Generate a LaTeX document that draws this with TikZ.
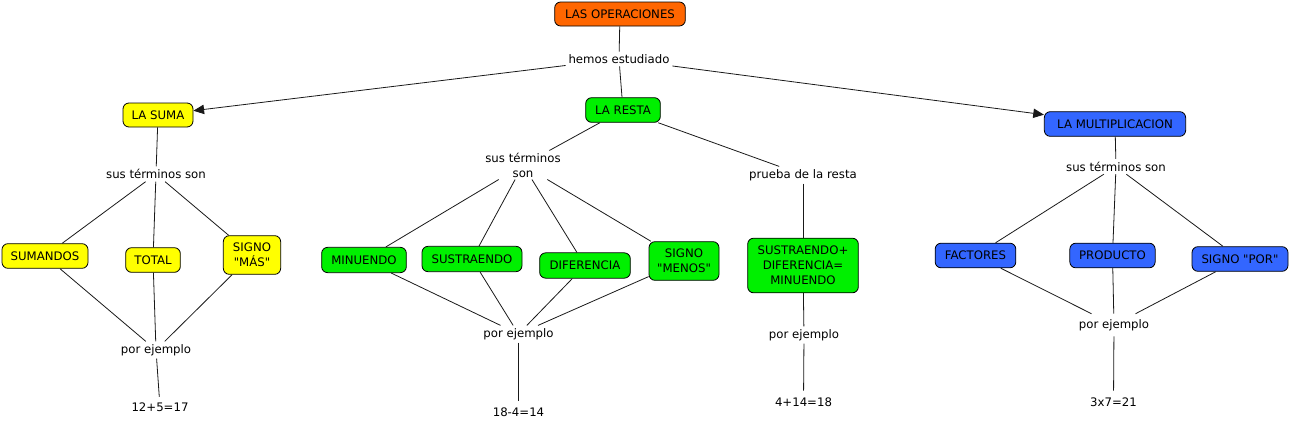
\documentclass[tikz,border=0pt]{standalone}
\usepackage{fontspec}
\newfontfamily\dvsans{DejaVu Sans}
\usetikzlibrary{arrows.meta}
\definecolor{corange}{RGB}{255,102,0}
\definecolor{cyellow}{RGB}{255,255,0}
\definecolor{cgreen}{RGB}{0,240,0}
\definecolor{cblue}{RGB}{51,102,255}
\tikzset{
  conc/.style={draw=black, line width=0.6pt, rounded corners=4.5pt, inner sep=0pt, align=center, font=\dvsans\fontsize{8.8}{11.2}\selectfont, text=black},
  phrase/.style={fill=white, inner sep=2pt, align=center, font=\dvsans\fontsize{8.8}{11.2}\selectfont, text=black},
  link/.style={line width=0.6pt, draw=black!90},
  arr/.style={link, -{Triangle[length=8pt,width=7pt]}},
}
\begin{document}
\begin{tikzpicture}[x=0.75pt,y=-0.75pt]
\useasboundingbox (0,0) rectangle (1290,426);
% concepts
\node[conc, fill=corange, minimum width=98pt, minimum height=18pt] (ops) at (620,14) {LAS OPERACIONES};
\node[conc, fill=cyellow, minimum width=52.5pt, minimum height=18pt] (suma) at (158,115) {LA SUMA};
\node[conc, fill=cgreen, minimum width=56pt, minimum height=18.5pt] (resta) at (623,110) {LA RESTA};
\node[conc, fill=cblue, minimum width=106pt, minimum height=18.5pt] (mult) at (1115,124) {LA MULTIPLICACION};
% phrases
\node[phrase] (hemos) at (619,59) {hemos estudiado};
% left
\node[phrase] (sus1) at (156,174) {sus términos son};
\node[conc, fill=cyellow, minimum width=64.5pt, minimum height=18.5pt] (sumandos) at (45,256) {SUMANDOS};
\node[conc, fill=cyellow, minimum width=41pt, minimum height=18.5pt] (total) at (153,260) {TOTAL};
\node[conc, fill=cyellow, minimum width=43pt, minimum height=29pt] (mas) at (252,255) {SIGNO\\"MÁS"};
\node[phrase] (por1) at (156,350) {por ejemplo};
\node[phrase, inner sep=4pt] (ex1) at (160,407) {12+5=17};
% middle
\node[phrase, inner sep=1.5pt] (sus2) at (523,165) {sus términos\\son};
\node[conc, fill=cgreen, minimum width=63.5pt, minimum height=19pt] (minuendo) at (364,260) {MINUENDO};
\node[conc, fill=cgreen, minimum width=75pt, minimum height=19pt] (sustraendo) at (472,259) {SUSTRAENDO};
\node[conc, fill=cgreen, minimum width=68pt, minimum height=19pt] (diferencia) at (585,265.5) {DIFERENCIA};
\node[conc, fill=cgreen, minimum width=52.5pt, minimum height=29pt] (menos) at (684,261) {SIGNO\\"MENOS"};
\node[phrase] (por2) at (518.5,334) {por ejemplo};
\node[phrase, inner sep=5pt] (ex2) at (518.5,412) {18-4=14};
\node[phrase] (prueba) at (803,175) {prueba de la resta};
\node[conc, fill=cgreen, minimum width=83pt, minimum height=41pt] (proof) at (803,265.5) {SUSTRAENDO+\\DIFERENCIA=\\MINUENDO};
\node[phrase] (por3) at (804,335) {por ejemplo};
\node[phrase, inner sep=5pt] (ex3) at (803.5,402) {4+14=18};
% right
\node[phrase] (sus3) at (1116,166.5) {sus términos son};
\node[conc, fill=cblue, minimum width=60.5pt, minimum height=18.5pt] (factores) at (975.5,255.5) {FACTORES};
\node[conc, fill=cblue, minimum width=64pt, minimum height=18.5pt] (producto) at (1112.5,255.5) {PRODUCTO};
\node[conc, fill=cblue, minimum width=72pt, minimum height=18.5pt] (porsign) at (1240,259) {SIGNO "POR"};
\node[phrase, inner sep=4pt] (por4) at (1114,325) {por ejemplo};
\node[phrase, inner sep=5pt] (ex4) at (1113.5,402) {3x7=21};
% connectors
\draw[link] (ops) -- (hemos);
\draw[arr] (hemos) -- (suma);
\draw[link] (hemos) -- (resta);
\draw[arr] (hemos) -- (mult);
\draw[link] (suma) -- (sus1);
\draw[link] (sus1) -- (sumandos);
\draw[link] (sus1) -- (total);
\draw[link] (sus1) -- (mas);
\draw[link] (sumandos) -- (por1);
\draw[link] (total) -- (por1);
\draw[link] (mas) -- (por1);
\draw[link] (por1) -- (ex1);
\draw[link] (resta) -- (sus2);
\draw[link] (resta) -- (prueba);
\draw[link] (sus2) -- (minuendo);
\draw[link] (sus2) -- (sustraendo);
\draw[link] (sus2) -- (diferencia);
\draw[link] (sus2) -- (menos);
\draw[link] (minuendo) -- (por2);
\draw[link] (sustraendo) -- (por2);
\draw[link] (diferencia) -- (por2);
\draw[link] (menos) -- (por2);
\draw[link] (por2) -- (ex2);
\draw[link] (prueba) -- (proof);
\draw[link] (proof) -- (por3);
\draw[link] (por3) -- (ex3);
\draw[link] (mult) -- (sus3);
\draw[link] (sus3) -- (factores);
\draw[link] (sus3) -- (producto);
\draw[link] (sus3) -- (porsign);
\draw[link] (factores) -- (por4);
\draw[link] (producto) -- (por4);
\draw[link] (porsign) -- (por4);
\draw[link] (por4) -- (ex4);
\end{tikzpicture}
\end{document}
